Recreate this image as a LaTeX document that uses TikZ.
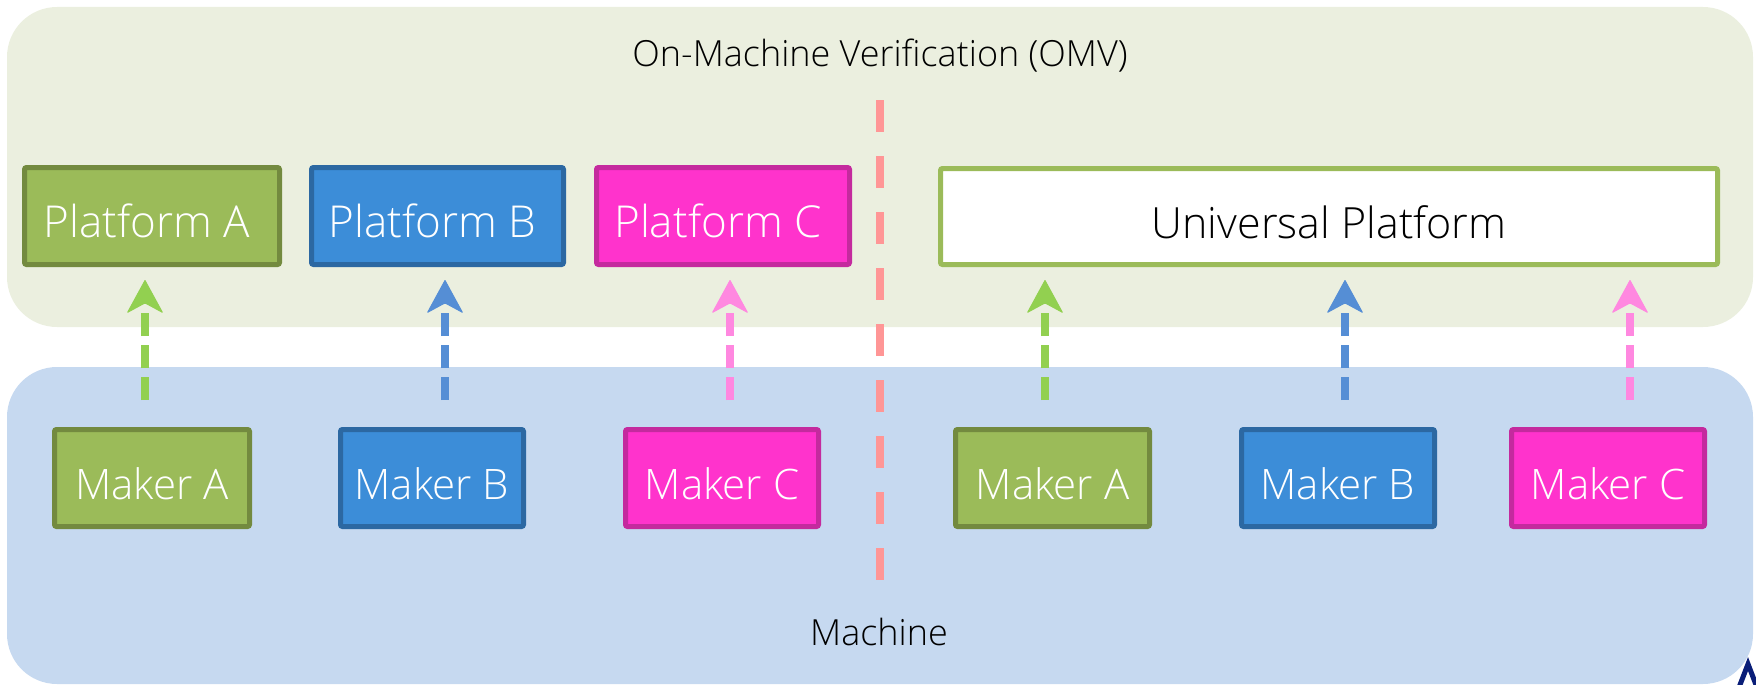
\documentclass[tikz,border=0pt]{standalone}
\usepackage{fontspec}
\IfFontExistsTF{Open Sans Light}{\setmainfont{Open Sans Light}}{\setmainfont{Open Sans}}
\usetikzlibrary{arrows.meta,calc}

\definecolor{omvbg}{HTML}{EBEFDF}
\definecolor{machbg}{HTML}{C6D9F0}
\definecolor{gfill}{HTML}{9BBB59}
\definecolor{gline}{HTML}{738A3F}
\definecolor{bfill}{HTML}{3C8DD8}
\definecolor{bline}{HTML}{2C68A2}
\definecolor{pfill}{HTML}{FF33CC}
\definecolor{pline}{HTML}{C42A9E}
\definecolor{garrow}{HTML}{92D050}
\definecolor{barrow}{HTML}{558ED5}
\definecolor{parrow}{HTML}{FF88E0}
\definecolor{divider}{HTML}{FF9696}
\definecolor{logonavy}{HTML}{0A1E78}

\newcommand{\platfont}{\fontsize{44pt}{50pt}\selectfont}
\newcommand{\unifont}{\fontsize{43pt}{49pt}\selectfont}
\newcommand{\makerfont}{\fontsize{42pt}{48pt}\selectfont}
\newcommand{\titlefont}{\fontsize{36pt}{42pt}\selectfont}

\tikzset{
  panel/.style={rounded corners=50pt},
  colbox/.style={draw, line width=5pt, rounded corners=2pt, inner sep=0pt,
    minimum height=97pt, text=white, font=\makerfont,
    text height=42pt, text depth=0pt},
  platbox/.style={font=\platfont, text height=43.5pt,
    execute at end node={\hspace*{10pt}}},
  greenbox/.style={colbox, fill=gfill, draw=gline},
  bluebox/.style={colbox, fill=bfill, draw=bline},
  pinkbox/.style={colbox, fill=pfill, draw=pline},
  unibox/.style={colbox, fill=white, draw=gfill, text=black, minimum height=96pt,
    font=\unifont, text height=43pt},
  title/.style={font=\titlefont, text=black, inner sep=0pt},
  uparrow/.style={line width=8pt, dash pattern=on 23.5pt off 8.5pt,
    -{Stealth[length=34pt, width=37pt, inset=10pt, round, line width=1pt]}},
  divline/.style={divider, line width=8pt, dash pattern=on 32pt off 24pt},
}

\begin{document}
\begin{tikzpicture}[x=1pt, y=-1pt]
\useasboundingbox (0,0) rectangle (1756,685);

% two panels
\fill[omvbg, panel] (7,7) rectangle (1753,327);
\fill[machbg, panel] (7,367) rectangle (1753,684);

% panel titles
\node[title] (omv) at (880,56) {On-Machine Verification (OMV)};
\node[title] (mach) at (879,632) {Machine};

% separating dashed line
\coordinate (divtop) at (880,100);
\coordinate (divbot) at (880,580);
\draw[divline] (divtop) -- (divbot);

% platforms
\node[greenbox, platbox, minimum width=255pt] (pA) at (152,216) {Platform A};
\node[bluebox,  platbox, minimum width=252pt] (pB) at (437.5,216) {Platform B};
\node[pinkbox,  platbox, minimum width=253pt] (pC) at (723,216) {Platform C};
\node[unibox,   minimum width=777pt] (pU) at (1329,216.5) {Universal Platform};

% makers
\node[greenbox, minimum width=195pt] (mA)  at (152,478) {Maker A};
\node[bluebox,  minimum width=183pt] (mB)  at (432,478) {Maker B};
\node[pinkbox,  minimum width=193pt] (mC)  at (722,478) {Maker C};
\node[greenbox, minimum width=194pt] (mA2) at (1052.5,478) {Maker A};
\node[bluebox,  minimum width=193pt] (mB2) at (1338,478) {Maker B};
\node[pinkbox,  minimum width=193pt] (mC2) at (1608,478) {Maker C};

% dashed arrows from makers up to platforms
\draw[uparrow, garrow] ($(mA.north)+(-7,-27)$) -- ($(mA.north |- pA.south)+(-7,13)$);
\draw[uparrow, barrow] ($(mB.north)+(13,-27)$) -- ($(mB.north |- pB.south)+(13,13)$);
\draw[uparrow, parrow] ($(mC.north)+(8,-27)$) -- ($(mC.north |- pC.south)+(8,13)$);
\draw[uparrow, garrow] ($(mA2.north)+(-7.5,-27)$) -- ($(mA2.north |- pU.south)+(-7.5,13)$);
\draw[uparrow, barrow] ($(mB2.north)+(7,-27)$) -- ($(mB2.north |- pU.south)+(7,13)$);
\draw[uparrow, parrow] ($(mC2.north)+(22,-27)$) -- ($(mC2.north |- pU.south)+(22,13)$);

% corner of a logo
\draw[logonavy, line width=5pt] (1738,690) -- (1748,664) -- (1758,690);
\end{tikzpicture}
\end{document}
